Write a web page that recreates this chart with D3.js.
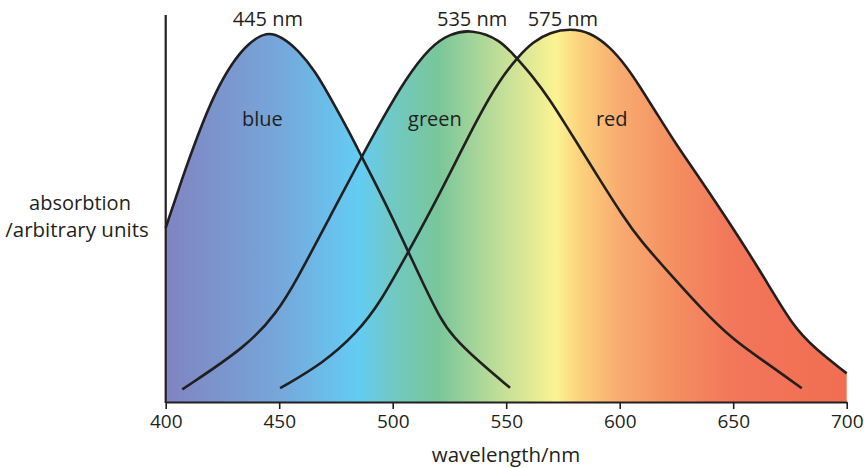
<!DOCTYPE html>
<html><head><meta charset="utf-8">
<script src="https://cdn.jsdelivr.net/npm/d3@7"></script>
<style>
html,body{margin:0;padding:0;background:#fff;}
svg text{font-family:"Open Sans","Noto Sans",sans-serif;fill:#231F20;}
</style></head>
<body><svg id="chart" width="864" height="468"></svg>
<script>
// wavelength (nm), absorption (arbitrary units, peak ~100)
const blueNm  = [400,407.0,414.4,421.7,429.1,436.4,444.5,451.1,458.4,465.8,473.1,480.4,486.3,493.7,500.3,506.7,513.3,520.8,526.6,537.1,551.7];
const blueAbs = [46.8,59.7,72.3,83.1,91.1,96.5,99.6,98.2,94.6,89.0,81.2,73.1,66.0,57.2,49.0,40.6,32.0,22.6,17.5,11.3,3.8];
const greenNm  = [407.3,435.7,448.9,457.7,471.6,486.3,495.2,505.4,516.4,525.2,534.8,547.3,554.6,561.9,569.3,576.7,584.0,591.3,601.6,608.9,623.4,635.3,649.9,664.8,680.2];
const greenAbs = [3.4,14.9,23.9,32.8,48.9,65.9,75.8,86.6,95.5,99.0,100.2,97.5,92.4,87.4,81.2,74.0,66.9,59.7,49.8,43.5,33.6,25.5,16.7,10.5,3.7];
const redNm  = [450.4,469.3,484.1,494.4,506.9,519.4,538.5,547.3,554.6,561.9,569.3,578.1,586.9,595.7,603.1,608.9,616.3,625.1,635.4,645.6,661.8,676.3,686.8,700];
const redAbs = [3.7,10.4,18.5,26.6,40.4,54.3,77.7,86.6,92.4,96.9,99.4,100.4,99.4,95.5,90.1,84.8,77.6,69.0,60.0,50.7,35.5,20.2,14.0,7.7];
const curveNames = ["blue","green","red"];
const curveNameNm = [442.6,518.6,596.5];
const peakLabels = ["445 nm","535 nm","575 nm"];
const peakNm = [445,535,575];
const xTicks = [400,450,500,550,600,650,700];
const spectrumNm = [400,450,485,500,520,545,572,582,600,625,650,700];
const spectrumColor = ["#8084C0","#76A7DB","#63CCF3","#70C9C4","#79C69A","#BBDC98","#FBF392","#FDD37D","#F8AB70","#F48E60","#F2765A","#F16E51"];

const svg = d3.select("#chart");
const x = d3.scaleLinear().domain([400,700]).range([165.7,846.7]);
const y = d3.scaleLinear().domain([0,100]).range([402,30]);

const defs = svg.append("defs");
const grad = defs.append("linearGradient").attr("id","spec")
  .attr("gradientUnits","userSpaceOnUse")
  .attr("x1",x(400)).attr("x2",x(700)).attr("y1",0).attr("y2",0);
spectrumNm.forEach((w,i)=>grad.append("stop")
  .attr("offset",(w-400)/300).attr("stop-color",spectrumColor[i]));

const series = [
  blueNm.map((w,i)=>[w,blueAbs[i]]),
  greenNm.map((w,i)=>[w,greenAbs[i]]),
  redNm.map((w,i)=>[w,redAbs[i]])
];
const curve = d3.curveBasis;
const area = d3.area().x(d=>x(d[0])).y0(y(0)).y1(d=>y(d[1])).curve(curve);
const line = d3.line().x(d=>x(d[0])).y(d=>y(d[1])).curve(curve);

svg.append("g").selectAll("path").data(series).join("path")
  .attr("d",area).attr("fill","url(#spec)").attr("stroke","none");

svg.append("g").selectAll("path").data(series).join("path")
  .attr("d",line).attr("fill","none").attr("stroke","#231F20")
  .attr("stroke-width",2.6).attr("stroke-linejoin","round");

// axes
const xAxis = d3.axisBottom(x).tickValues(xTicks).tickSize(7).tickSizeOuter(0).tickPadding(6);
const gx = svg.append("g").attr("transform",`translate(0,${y(0)})`).call(xAxis);
gx.select(".domain").attr("stroke","#231F20").attr("stroke-width",2.2);
gx.selectAll(".tick line").attr("stroke","#231F20").attr("stroke-width",1.6);
gx.selectAll(".tick text").attr("font-size",19).attr("font-family","'Open Sans',sans-serif").attr("fill","#231F20");

svg.append("line").attr("x1",x(400)).attr("x2",x(400))
  .attr("y1",y(104)).attr("y2",y(0)+1)
  .attr("stroke","#231F20").attr("stroke-width",2.2);

// labels
svg.append("g").selectAll("text").data(peakLabels).join("text")
  .attr("x",(d,i)=>x(peakNm[i])).attr("y",26)
  .attr("text-anchor","middle").attr("font-size",20).text(d=>d);

svg.append("g").selectAll("text").data(curveNames).join("text")
  .attr("x",(d,i)=>x(curveNameNm[i])).attr("y",126)
  .attr("text-anchor","middle").attr("font-size",20).text(d=>d);

svg.append("text").attr("x",80).attr("y",210).attr("text-anchor","middle")
  .attr("font-size",20).text("absorbtion");
svg.append("text").attr("x",77).attr("y",237).attr("text-anchor","middle")
  .attr("font-size",20.5).text("/arbitrary units");
svg.append("text").attr("x",x(549.9)).attr("y",462).attr("text-anchor","middle")
  .attr("font-size",20.5).text("wavelength/nm");
</script></body></html>
